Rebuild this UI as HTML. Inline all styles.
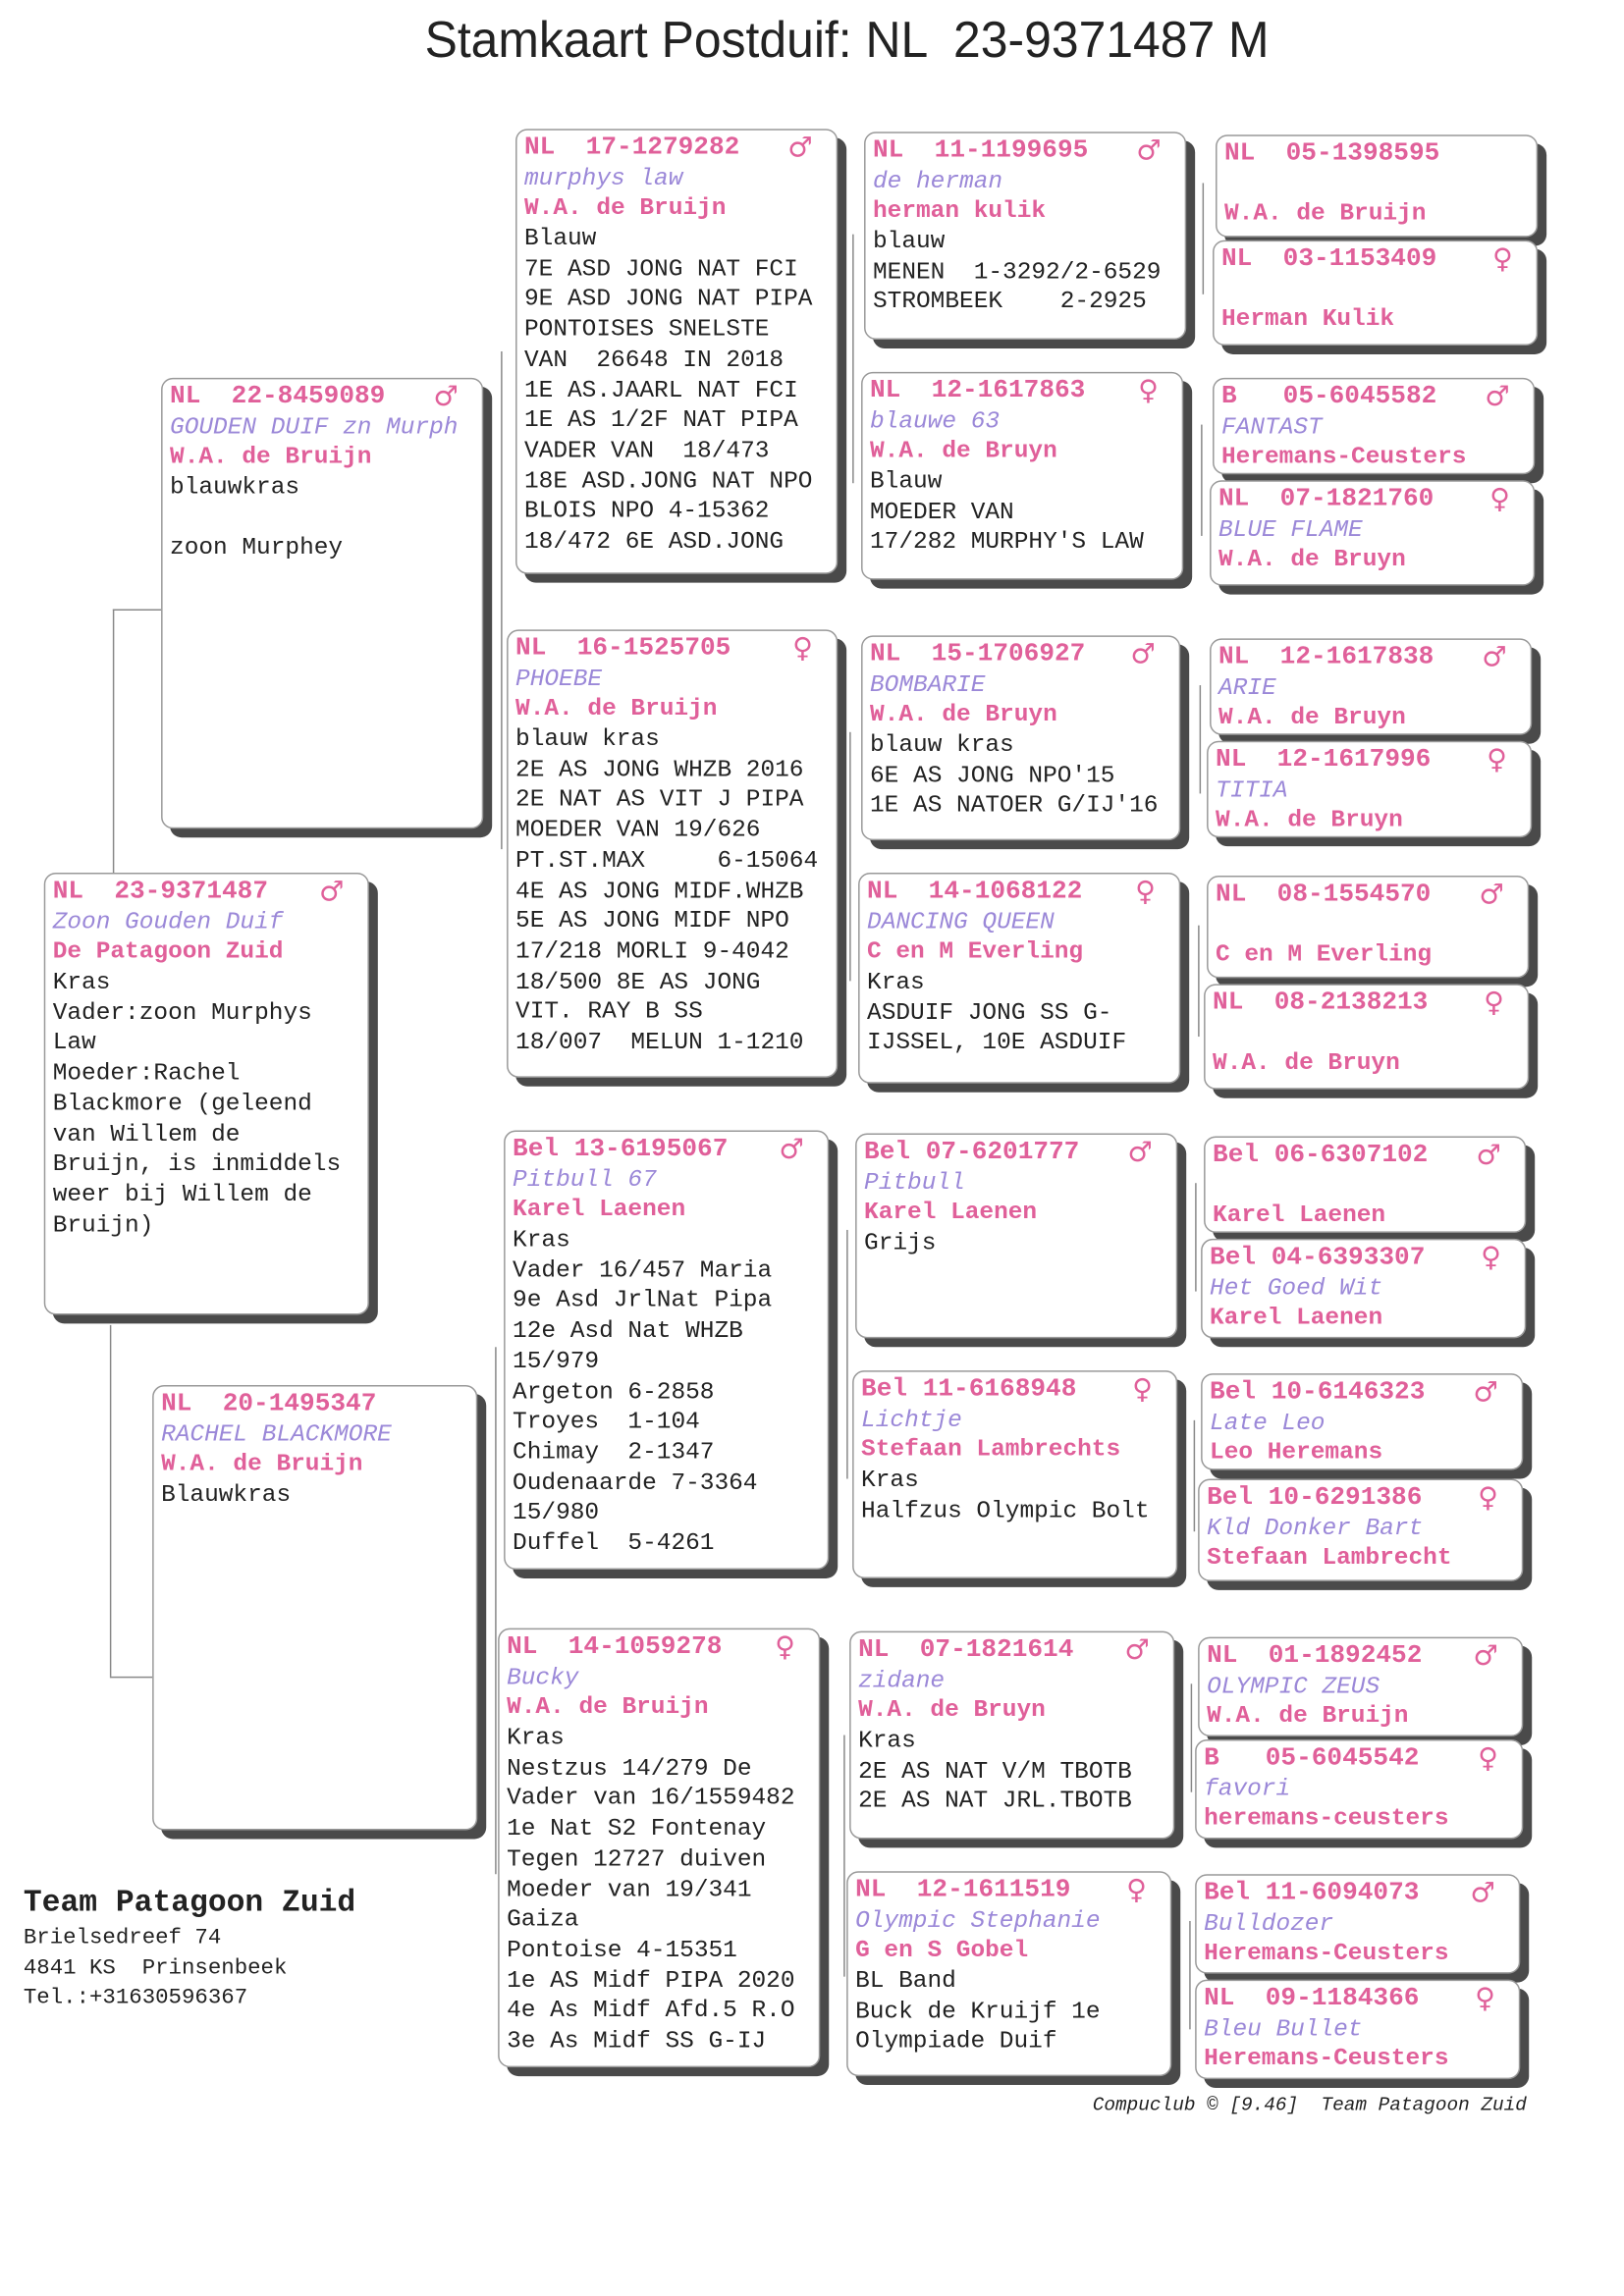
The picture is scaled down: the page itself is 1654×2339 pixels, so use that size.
<!DOCTYPE html>
<html><head><meta charset="utf-8">
<style>
html,body{margin:0;padding:0;background:#fff;}
body{width:1654px;height:2338px;overflow:hidden;position:relative;}
#w{position:absolute;left:0;top:0;width:1110px;height:1568px;transform:scale(1.4916);transform-origin:0 0;}
.b{position:absolute;background:#fff;border:1px solid #999;border-radius:8px;box-shadow:6px 6px 0 #4a4a4a;box-sizing:border-box;padding:2px 0 0 5px;font-family:"Liberation Mono",monospace;font-size:16.4px;color:#222;overflow:hidden;}
.b div{height:20.7px;line-height:20.7px;white-space:pre;}
.b .h{color:#e0609a;font-weight:bold;font-size:17.5px;position:relative;}
.b .h i{position:absolute;right:16px;top:0;font-style:normal;font-family:"DejaVu Sans",sans-serif;font-size:19px;font-weight:bold;}
.b .n{color:#9b88d8;font-style:italic;}
.b .o{color:#e0609a;font-weight:bold;}
.l{position:absolute;background:#888;}
.v{width:1px;}
.hz{height:1px;}
</style></head><body><div id="w">

<div style="position:absolute;left:290px;top:8px;width:640px;font-family:'Liberation Sans',sans-serif;font-size:35px;color:#222;white-space:pre;transform:scaleX(0.955);transform-origin:0 0;">Stamkaart Postduif: NL  23-9371487 M</div>

<!-- connectors -->
<div class="l v" style="left:77px;top:416px;height:180px"></div>
<div class="l hz" style="left:77px;top:416px;width:33px"></div>
<div class="l v" style="left:75px;top:905px;height:240px"></div>
<div class="l hz" style="left:75px;top:1145px;width:29px"></div>
<div class="l v" style="left:342px;top:240px;height:340px"></div>
<div class="l v" style="left:338px;top:920px;height:360px"></div>
<div class="l v" style="left:582px;top:160px;height:170px"></div>
<div class="l v" style="left:580px;top:500px;height:170px"></div>
<div class="l v" style="left:578px;top:840px;height:170px"></div>
<div class="l v" style="left:576px;top:1185px;height:165px"></div>
<div class="l v" style="left:821px;top:125px;height:76px"></div>
<div class="l v" style="left:820px;top:290px;height:76px"></div>
<div class="l v" style="left:819px;top:468px;height:74px"></div>
<div class="l v" style="left:818px;top:632px;height:76px"></div>
<div class="l v" style="left:816px;top:808px;height:74px"></div>
<div class="l v" style="left:815px;top:970px;height:76px"></div>
<div class="l v" style="left:813px;top:1150px;height:74px"></div>
<div class="l v" style="left:812px;top:1312px;height:74px"></div>

<!-- gen0 -->
<div class="b" style="left:30px;top:596px;width:222px;height:302px">
<div class="h">NL  23-9371487<i>♂</i></div><div class="n">Zoon Gouden Duif</div><div class="o">De Patagoon Zuid</div><div>Kras</div><div>Vader:zoon Murphys</div><div>Law</div><div>Moeder:Rachel</div><div>Blackmore (geleend</div><div>van Willem de</div><div>Bruijn, is inmiddels</div><div>weer bij Willem de</div><div>Bruijn)</div></div>

<!-- gen1 -->
<div class="b" style="left:110px;top:258px;width:220px;height:308px">
<div class="h">NL  22-8459089<i>♂</i></div><div class="n">GOUDEN DUIF zn Murph</div><div class="o">W.A. de Bruijn</div><div>blauwkras</div><div></div><div>zoon Murphey</div></div>
<div class="b" style="left:104px;top:946px;width:222px;height:304px">
<div class="h">NL  20-1495347</div><div class="n">RACHEL BLACKMORE</div><div class="o">W.A. de Bruijn</div><div>Blauwkras</div></div>

<!-- gen2 -->
<div class="b" style="left:352px;top:88px;width:220px;height:304px">
<div class="h">NL  17-1279282<i>♂</i></div><div class="n">murphys law</div><div class="o">W.A. de Bruijn</div><div>Blauw</div><div>7E ASD JONG NAT FCI</div><div>9E ASD JONG NAT PIPA</div><div>PONTOISES SNELSTE</div><div>VAN  26648 IN 2018</div><div>1E AS.JAARL NAT FCI</div><div>1E AS 1/2F NAT PIPA</div><div>VADER VAN  18/473</div><div>18E ASD.JONG NAT NPO</div><div>BLOIS NPO 4-15362</div><div>18/472 6E ASD.JONG</div></div>
<div class="b" style="left:346px;top:430px;width:226px;height:306px">
<div class="h">NL  16-1525705<i>♀</i></div><div class="n">PHOEBE</div><div class="o">W.A. de Bruijn</div><div>blauw kras</div><div>2E AS JONG WHZB 2016</div><div>2E NAT AS VIT J PIPA</div><div>MOEDER VAN 19/626</div><div>PT.ST.MAX     6-15064</div><div>4E AS JONG MIDF.WHZB</div><div>5E AS JONG MIDF NPO</div><div>17/218 MORLI 9-4042</div><div>18/500 8E AS JONG</div><div>VIT. RAY B SS</div><div>18/007  MELUN 1-1210</div></div>
<div class="b" style="left:344px;top:772px;width:222px;height:300px">
<div class="h">Bel 13-6195067<i>♂</i></div><div class="n">Pitbull 67</div><div class="o">Karel Laenen</div><div>Kras</div><div>Vader 16/457 Maria</div><div>9e Asd JrlNat Pipa</div><div>12e Asd Nat WHZB</div><div>15/979</div><div>Argeton 6-2858</div><div>Troyes  1-104</div><div>Chimay  2-1347</div><div>Oudenaarde 7-3364</div><div>15/980</div><div>Duffel  5-4261</div></div>
<div class="b" style="left:340px;top:1112px;width:220px;height:300px">
<div class="h">NL  14-1059278<i>♀</i></div><div class="n">Bucky</div><div class="o">W.A. de Bruijn</div><div>Kras</div><div>Nestzus 14/279 De</div><div>Vader van 16/1559482</div><div>1e Nat S2 Fontenay</div><div>Tegen 12727 duiven</div><div>Moeder van 19/341</div><div>Gaiza</div><div>Pontoise 4-15351</div><div>1e AS Midf PIPA 2020</div><div>4e As Midf Afd.5 R.O</div><div>3e As Midf SS G-IJ</div></div>

<!-- gen3 -->
<div class="b" style="left:590px;top:90px;width:220px;height:142px">
<div class="h">NL  11-1199695<i>♂</i></div><div class="n">de herman</div><div class="o">herman kulik</div><div>blauw</div><div>MENEN  1-3292/2-6529</div><div>STROMBEEK    2-2925</div></div>
<div class="b" style="left:588px;top:254px;width:220px;height:142px">
<div class="h">NL  12-1617863<i>♀</i></div><div class="n">blauwe 63</div><div class="o">W.A. de Bruyn</div><div>Blauw</div><div>MOEDER VAN</div><div>17/282 MURPHY'S LAW</div></div>
<div class="b" style="left:588px;top:434px;width:218px;height:140px">
<div class="h">NL  15-1706927<i>♂</i></div><div class="n">BOMBARIE</div><div class="o">W.A. de Bruyn</div><div>blauw kras</div><div>6E AS JONG NPO'15</div><div>1E AS NATOER G/IJ'16</div></div>
<div class="b" style="left:586px;top:596px;width:220px;height:144px">
<div class="h">NL  14-1068122<i>♀</i></div><div class="n">DANCING QUEEN</div><div class="o">C en M Everling</div><div>Kras</div><div>ASDUIF JONG SS G-</div><div>IJSSEL, 10E ASDUIF</div></div>
<div class="b" style="left:584px;top:774px;width:220px;height:140px">
<div class="h">Bel 07-6201777<i>♂</i></div><div class="n">Pitbull</div><div class="o">Karel Laenen</div><div>Grijs</div></div>
<div class="b" style="left:582px;top:936px;width:222px;height:142px">
<div class="h">Bel 11-6168948<i>♀</i></div><div class="n">Lichtje</div><div class="o">Stefaan Lambrechts</div><div>Kras</div><div>Halfzus Olympic Bolt</div></div>
<div class="b" style="left:580px;top:1114px;width:222px;height:142px">
<div class="h">NL  07-1821614<i>♂</i></div><div class="n">zidane</div><div class="o">W.A. de Bruyn</div><div>Kras</div><div>2E AS NAT V/M TBOTB</div><div>2E AS NAT JRL.TBOTB</div></div>
<div class="b" style="left:578px;top:1278px;width:222px;height:140px">
<div class="h">NL  12-1611519<i>♀</i></div><div class="n">Olympic Stephanie</div><div class="o">G en S Gobel</div><div>BL Band</div><div>Buck de Kruijf 1e</div><div>Olympiade Duif</div></div>

<!-- gen4 -->
<div class="b" style="left:830px;top:92px;width:220px;height:70px"><div class="h">NL  05-1398595</div><div></div><div class="o">W.A. de Bruijn</div></div>
<div class="b" style="left:828px;top:164px;width:222px;height:72px"><div class="h">NL  03-1153409<i>♀</i></div><div></div><div class="o">Herman Kulik</div></div>
<div class="b" style="left:828px;top:258px;width:220px;height:66px"><div class="h">B   05-6045582<i>♂</i></div><div class="n">FANTAST</div><div class="o">Heremans-Ceusters</div></div>
<div class="b" style="left:826px;top:328px;width:222px;height:72px"><div class="h">NL  07-1821760<i>♀</i></div><div class="n">BLUE FLAME</div><div class="o">W.A. de Bruyn</div></div>
<div class="b" style="left:826px;top:436px;width:220px;height:66px"><div class="h">NL  12-1617838<i>♂</i></div><div class="n">ARIE</div><div class="o">W.A. de Bruyn</div></div>
<div class="b" style="left:824px;top:506px;width:222px;height:66px"><div class="h">NL  12-1617996<i>♀</i></div><div class="n">TITIA</div><div class="o">W.A. de Bruyn</div></div>
<div class="b" style="left:824px;top:598px;width:220px;height:70px"><div class="h">NL  08-1554570<i>♂</i></div><div></div><div class="o">C en M Everling</div></div>
<div class="b" style="left:822px;top:672px;width:222px;height:72px"><div class="h">NL  08-2138213<i>♀</i></div><div></div><div class="o">W.A. de Bruyn</div></div>
<div class="b" style="left:822px;top:776px;width:220px;height:66px"><div class="h">Bel 06-6307102<i>♂</i></div><div></div><div class="o">Karel Laenen</div></div>
<div class="b" style="left:820px;top:846px;width:222px;height:68px"><div class="h">Bel 04-6393307<i>♀</i></div><div class="n">Het Goed Wit</div><div class="o">Karel Laenen</div></div>
<div class="b" style="left:820px;top:938px;width:220px;height:66px"><div class="h">Bel 10-6146323<i>♂</i></div><div class="n">Late Leo</div><div class="o">Leo Heremans</div></div>
<div class="b" style="left:818px;top:1010px;width:222px;height:70px"><div class="h">Bel 10-6291386<i>♀</i></div><div class="n">Kld Donker Bart</div><div class="o">Stefaan Lambrecht</div></div>
<div class="b" style="left:818px;top:1118px;width:222px;height:68px"><div class="h">NL  01-1892452<i>♂</i></div><div class="n">OLYMPIC ZEUS</div><div class="o">W.A. de Bruijn</div></div>
<div class="b" style="left:816px;top:1188px;width:224px;height:68px"><div class="h">B   05-6045542<i>♀</i></div><div class="n">favori</div><div class="o">heremans-ceusters</div></div>
<div class="b" style="left:816px;top:1280px;width:222px;height:68px"><div class="h">Bel 11-6094073<i>♂</i></div><div class="n">Bulldozer</div><div class="o">Heremans-Ceusters</div></div>
<div class="b" style="left:816px;top:1352px;width:222px;height:68px"><div class="h">NL  09-1184366<i>♀</i></div><div class="n">Bleu Bullet</div><div class="o">Heremans-Ceusters</div></div>

<!-- footer -->
<div style="position:absolute;left:16px;top:1288px;font-family:'Liberation Mono',monospace;color:#222;">
<div style="font-weight:bold;font-size:21px;line-height:26px;">Team Patagoon Zuid</div>
<div style="font-size:15px;line-height:20.5px;white-space:pre;">Brielsedreef 74
4841 KS  Prinsenbeek
Tel.:+31630596367</div></div>
<div style="position:absolute;left:746px;top:1430px;font-family:'Liberation Mono',monospace;font-style:italic;font-size:13px;color:#222;white-space:pre;">Compuclub © [9.46]  Team Patagoon Zuid</div>

</div></body></html>
